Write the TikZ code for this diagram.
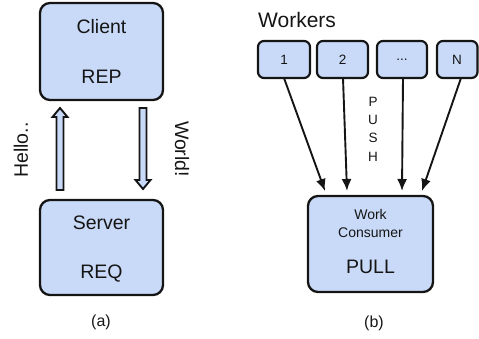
\documentclass[tikz,border=0pt]{standalone}
\usepackage{fontspec}
\setmainfont{Liberation Sans}
\usetikzlibrary{arrows.meta}
\definecolor{boxfill}{HTML}{C9DAF8}
\definecolor{ink}{HTML}{151515}
\tikzset{
  rbox/.style={draw=ink, line width=2.3pt, fill=boxfill, rounded corners=10pt},
  wbox/.style={draw=ink, line width=2.2pt, fill=boxfill, rounded corners=6pt},
  txt/.style={text=ink, inner sep=0pt},
  big/.style={txt, font=\fontsize{19.5}{22}\selectfont},
  mid/.style={txt, font=\fontsize{14}{16}\selectfont},
  small/.style={txt, font=\fontsize{13.5}{15}\selectfont},
  hollow/.style={draw=ink, line width=1.9pt, fill=boxfill},
  push/.style={draw=ink, line width=1.9pt, -{Latex[length=12pt,width=10pt]}}
}
\begin{document}
\begin{tikzpicture}[x=1pt,y=-1pt]
\useasboundingbox (0,0) rectangle (479,339);
% (a)
\draw[rbox] (40,3) rectangle (163,100);
\node (client) at (101.5,51.5) {};
\draw[rbox] (40,200) rectangle (163,295);
\node (server) at (101.5,247.5) {};
\node[big] (clientlbl) at (101.5,27) {Client};
\node[big] (rep) at (101.5,77) {REP};
\node[big] (serverlbl) at (101.5,223) {Server};
\node[big] (req) at (101.5,274) {REQ};
% hollow arrows
\draw[hollow] (56.5,190) -- (56.5,117) -- (52.5,117) -- (60,108) -- (67.5,117) -- (63.5,117) -- (63.5,190) -- cycle;
\draw[hollow] (139.5,108) -- (139.5,180) -- (135.5,180) -- (143,189) -- (150.5,180) -- (146.5,180) -- (146.5,108) -- cycle;
\node[big, rotate=90] (hello) at (21,150) {Hello..};
\node[big, rotate=-90] (world) at (182,149) {World!};
\node[txt, font=\fontsize{16}{18}\selectfont] (capa) at (101,322) {(a)};
% (b)
\node[txt, font=\fontsize{21}{24}\selectfont, anchor=west] (workers) at (258,20) {Workers};
\draw[wbox] (258,41) rectangle (310,78);
\draw[wbox] (317,41) rectangle (368,78);
\draw[wbox] (377,41) rectangle (427,78);
\draw[wbox] (437,41) rectangle (477.5,78);
\node[small] (w1) at (284,59.5) {1};
\node[small] (w2) at (342.5,59.5) {2};
\node[small] (w3) at (402,59.5) {...};
\node[small] (wn) at (457,59.5) {N};
\coordinate (s1) at (284,78);
\coordinate (s2) at (343,78);
\coordinate (s3) at (403,78);
\coordinate (s4) at (461,78);
\draw[rbox] (308,196) rectangle (433,292);
\node[mid] (work) at (370.5,214) {Work};
\node[mid] (consumer) at (370.5,233) {Consumer};
\node[big] (pull) at (370.5,267) {PULL};
\coordinate (t1) at (325,191);
\coordinate (t2) at (347,191);
\coordinate (t3) at (402,191);
\coordinate (t4) at (422,191);
\draw[push] (s1) -- (t1);
\draw[push] (s2) -- (t2);
\draw[push] (s3) -- (t3);
\draw[push] (s4) -- (t4);
\node[small, align=center, font=\fontsize{13.5}{18.3}\selectfont] (pushlbl) at (373,129) {P\\U\\S\\H};
\node[txt, font=\fontsize{16}{18}\selectfont] (capb) at (374,323) {(b)};
\end{tikzpicture}
\end{document}
